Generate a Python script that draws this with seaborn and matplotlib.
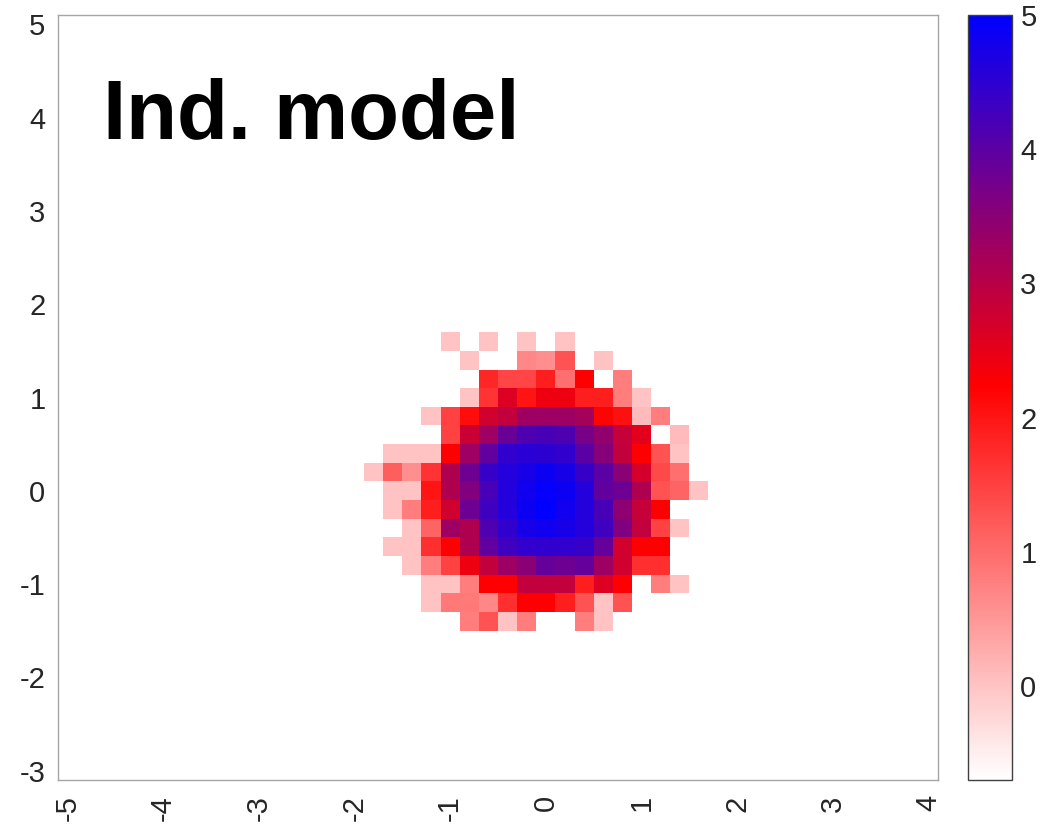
import numpy as np
import pandas as pd
import matplotlib
matplotlib.use("Agg")
import matplotlib.pyplot as plt
from matplotlib.colors import LinearSegmentedColormap
import seaborn as sns

sns.set_theme(style="white")
plt.rcParams["font.family"] = ["Liberation Sans", "DejaVu Sans"]

# Full plotting grid (cell centres, 0.2 spacing)
x_start, x_stop, step = -5.0, 4.0, 0.2
y_start, y_stop = -3.0, 5.0
x_ticks = [-5, -4, -3, -2, -1, 0, 1, 2, 3, 4]
y_ticks = [5, 4, 3, 2, 1, 0, -1, -2, -3]
cbar_ticks = [0, 1, 2, 3, 4, 5]
v_min, v_max = -0.7, 5.0

# Occupied cells around the origin
blob_x = [-1.8, -1.6, -1.4, -1.2, -1.0, -0.8, -0.6, -0.4, -0.2,
          0.0, 0.2, 0.4, 0.6, 0.8, 1.0, 1.2, 1.4, 1.6]
blob_y = [1.6, 1.4, 1.2, 1.0, 0.8, 0.6, 0.4, 0.2, 0.0,
          -0.2, -0.4, -0.6, -0.8, -1.0, -1.2, -1.4]
n = np.nan
row_p16 = [n, n, n, n, 0.0, n, 0.0, n, 0.0, n, 0.0, n, n, n, n, n, n, n]
row_p14 = [n, n, n, n, n, 0.0, n, n, 0.7, 0.6, 1.3, n, 0.0, n, n, n, n, n]
row_p12 = [n, n, n, n, n, n, 1.8, 1.45, 1.45, 1.9, 0.95, 2.25, n, 0.8, n, n, n, n]
row_p10 = [n, n, n, n, n, 0.0, 1.65, 2.6, 2.0, 2.4, 2.4, 1.9, 1.9, 0.8, 0.0, n, n, n]
row_p08 = [n, n, n, 0.0, 1.5, 2.1, 2.75, 2.9, 3.3, 3.3, 3.3, 3.2, 2.2, 2.05, 0.1, 0.8, n, n]
row_p06 = [n, n, n, n, 1.5, 2.8, 3.3, 3.85, 4.15, 4.2, 4.15, 3.7, 3.4, 2.85, 2.55, n, 0.1, n]
row_p04 = [n, 0.0, 0.0, 0.0, 2.25, 3.3, 3.95, 4.45, 4.55, 4.5, 4.45, 4.0, 3.55, 2.9, 2.25, 1.3, 0.0, n]
row_p02 = [0.0, 1.15, 0.6, 1.65, 3.1, 3.8, 4.4, 4.6, 4.75, 4.85, 4.75, 4.4, 4.0, 3.5, 2.7, 1.4, 0.95, n]
row_000 = [n, 0.0, 0.0, 2.0, 3.1, 3.6, 4.2, 4.6, 4.8, 4.95, 4.85, 4.6, 3.95, 3.8, 3.1, 1.3, 1.1, 0.0]
row_m02 = [n, 0.0, 0.8, 1.9, 2.75, 3.8, 4.3, 4.6, 4.85, 5.0, 4.8, 4.6, 4.2, 3.45, 2.85, 2.25, n, n]
row_m04 = [n, n, 0.0, 1.1, 3.3, 3.1, 4.15, 4.45, 4.75, 4.8, 4.75, 4.6, 4.3, 3.6, 2.9, 1.5, 0.0, n]
row_m06 = [n, 0.0, 0.0, 1.7, 2.25, 3.1, 3.95, 4.3, 4.45, 4.45, 4.45, 4.4, 3.9, 2.75, 2.25, 2.25, n, n]
row_m08 = [n, n, 0.0, 0.8, 1.5, 2.4, 2.9, 3.3, 3.5, 3.9, 3.8, 3.9, 3.3, 2.75, 1.7, 1.7, n, n]
row_m10 = [n, n, n, 0.0, 0.0, 0.8, 2.25, 2.25, 2.9, 2.9, 2.9, 1.9, 2.6, 2.25, n, 0.8, 0.0, n]
row_m12 = [n, n, n, 0.0, 0.85, 0.85, 0.7, 1.7, 2.25, 2.25, 1.9, 1.3, 0.0, 1.3, n, n, n, n]
row_m14 = [n, n, n, n, n, 0.8, 1.3, 0.0, 0.8, n, n, 0.8, 0.0, n, n, n, n, n]
blob_rows = [row_p16, row_p14, row_p12, row_p10, row_p08, row_p06, row_p04, row_p02,
             row_000, row_m02, row_m04, row_m06, row_m08, row_m10, row_m12, row_m14]

# Assemble the full grid (top row = largest y)
nx = int(round((x_stop - x_start) / step)) + 1
ny = int(round((y_stop - y_start) / step)) + 1
x_centers = np.round(x_start + step * np.arange(nx), 1)
y_centers = np.round(y_stop - step * np.arange(ny), 1)
grid = np.full((ny, nx), np.nan)
for yv, row in zip(blob_y, blob_rows):
    i = int(np.argmin(np.abs(y_centers - yv)))
    for xv, v in zip(blob_x, row):
        j = int(np.argmin(np.abs(x_centers - xv)))
        grid[i, j] = v
df = pd.DataFrame(grid, index=y_centers, columns=x_centers)

cmap = LinearSegmentedColormap.from_list(
    "white_red_blue", [(0.0, "#ffffff"), (0.515, "#ff0000"), (1.0, "#0000ff")])

W, H = 1044, 824
fig = plt.figure(figsize=(W / 100, H / 100), dpi=100)
ax = fig.add_axes([58 / W, 44 / H, 880 / W, 765 / H])
cax = fig.add_axes([968 / W, 44 / H, 44 / W, 765 / H])

sns.heatmap(df, ax=ax, cbar_ax=cax, cmap=cmap, vmin=v_min, vmax=v_max,
            xticklabels=False, yticklabels=False)

# Axis ticks at integer coordinates (cell centres)
xpos = [int(np.argmin(np.abs(x_centers - t))) + 0.5 for t in x_ticks]
ypos = [int(np.argmin(np.abs(y_centers - t))) + 0.5 for t in y_ticks]
ax.set_xticks(xpos)
ax.set_xticklabels([str(t) for t in x_ticks], rotation=90)
ax.set_yticks(ypos)
ax.set_yticklabels([str(t) for t in y_ticks], rotation=0)
ax.set_xlabel("")
ax.set_ylabel("")
ax.tick_params(axis="both", length=0, labelsize=21, labelcolor="#262626")
ax.tick_params(axis="x", pad=11)
ax.tick_params(axis="y", pad=9)
for sp in ax.spines.values():
    sp.set_visible(True)
    sp.set_color("#a6a6a6")
    sp.set_linewidth(1.0)

# Colorbar styling
cax.set_yticks(cbar_ticks)
cax.set_yticklabels([str(t) for t in cbar_ticks])
cax.yaxis.set_ticks_position("right")
cax.tick_params(axis="y", direction="in", length=5, width=0.8, color="#404040",
                labelsize=21, labelcolor="#262626", pad=6)
cbar = ax.collections[0].colorbar
cbar.outline.set_visible(True)
cbar.outline.set_edgecolor("#404040")
cbar.outline.set_linewidth(1.0)

ax.text(0.051, 0.838, "Ind. model", transform=ax.transAxes, fontsize=60,
        fontweight="bold", color="black", ha="left", va="baseline")

fig.savefig("out.png", dpi=100, facecolor="white")
